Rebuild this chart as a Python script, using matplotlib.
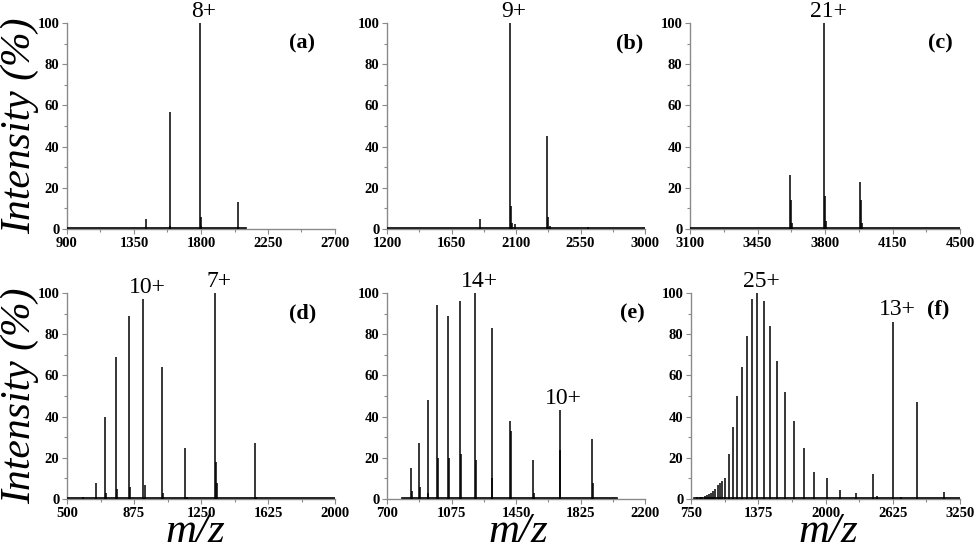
import numpy as np
import matplotlib.pyplot as plt
from matplotlib.ticker import AutoMinorLocator

plt.rcParams['font.family'] = ['Liberation Serif', 'DejaVu Serif']

# Picos de cada espectro (m/z, intensidad %)
a_mz = [1431, 1590, 1594, 1792, 1797, 1802, 2046, 2050]
a_int = [5, 57, 1.5, 100, 6, 1.5, 13, 1]

b_mz = [1848, 2058, 2062, 2070, 2090, 2318, 2322, 2335, 2600]
b_int = [5, 100, 11, 3, 2.5, 45, 6, 1.5, 1]

c_mz = [3621, 3625, 3630, 3795, 3799, 3805, 3983, 3987, 3993]
c_int = [26, 14, 3, 100, 16, 4, 23, 14, 3]

d_mz = [590, 662, 714, 720, 774, 780, 845, 851, 927, 934, 1032, 1038, 1160, 1170,
        1326, 1332, 1340, 1550, 1560]
d_int = [1, 8, 40, 3, 69, 5, 89, 6, 97, 7, 64, 3, 25, 1, 100, 18, 8, 27, 1]

e_mz = [840, 844, 886, 890, 936, 940, 991, 996, 1057, 1062, 1126, 1131, 1212, 1217,
        1308, 1313, 1415, 1420, 1548, 1553, 1703, 1708, 1894, 1899]
e_int = [15, 4, 27, 6, 48, 3, 94, 20, 89, 20, 96, 22, 100, 19,
         83, 10, 38, 33, 19, 3, 43, 24, 29, 8]

f_mz = [810, 834, 855, 876, 896, 915, 936, 958, 977, 999, 1021, 1041, 1066, 1104,
        1141, 1180, 1222, 1267, 1316, 1366, 1426, 1487, 1552, 1626, 1707, 1797,
        1896, 2010, 2136, 2279, 2439, 2480, 2630, 2700, 2846, 3102]
f_int = [1, 1, 1.2, 1.5, 2, 2.5, 3, 4, 5, 7, 8, 8.5, 10, 22,
         35, 50, 64, 79, 97, 100, 96, 84, 67, 52, 38, 25,
         13, 10, 4.5, 3, 12, 1.5, 86, 1.2, 47, 3.5]

# Rango del espectro registrado (linea base)
a_base = [900, 2100]
b_base = [1200, 3000]
c_base = [3100, 4500]
d_base = [500, 2000]
e_base = [790, 2040]
f_base = [780, 3250]

# Ejes x: limites y marcas
a_ticks = [900, 1350, 1800, 2250, 2700]
b_ticks = [1200, 1650, 2100, 2550, 3000]
c_ticks = [3100, 3450, 3800, 4150, 4500]
d_ticks = [500, 875, 1250, 1625, 2000]
e_ticks = [700, 1075, 1450, 1825, 2200]
f_ticks = [750, 1375, 2000, 2625, 3250]

# Etiquetas de estado de carga: (texto, indice del pico)
a_labels = [('8+', 3)]
b_labels = [('9+', 1)]
c_labels = [('21+', 3)]
d_labels = [('10+', 8), ('7+', 14)]
e_labels = [('14+', 12), ('10+', 20)]
f_labels = [('25+', 19), ('13+', 32)]

panels = [
    ('(a)', a_mz, a_int, a_base, a_ticks, a_labels),
    ('(b)', b_mz, b_int, b_base, b_ticks, b_labels),
    ('(c)', c_mz, c_int, c_base, c_ticks, c_labels),
    ('(d)', d_mz, d_int, d_base, d_ticks, d_labels),
    ('(e)', e_mz, e_int, e_base, e_ticks, e_labels),
    ('(f)', f_mz, f_int, f_base, f_ticks, f_labels),
]

W, H = 975, 551
# posicion de cada panel en pixeles: izquierda, arriba, derecha, abajo
boxes = [(67, 23, 335, 229), (387, 23, 645, 229), (690, 23, 960, 229),
         (67, 293, 335, 499), (387, 293, 645, 499), (691, 293, 960, 499)]
tag_pos = [(0.877, 0.90), (0.94, 0.90), (0.926, 0.90),
           (0.88, 0.90), (0.95, 0.90), (0.92, 0.92)]

fig = plt.figure(figsize=(W / 100, H / 100), dpi=100)
grey = '#8a8a8a'

for (tag, mz, inten, base, ticks, labels), (l, t, r, b), tp in zip(panels, boxes, tag_pos):
    ax = fig.add_axes([l / W, 1 - b / H, (r - l) / W, (b - t) / H])
    ax.plot(base, [0.4, 0.4], color='black', lw=1.2, zorder=3)
    ax.vlines(mz, 0, inten, color='black', lw=1.1, zorder=3)
    ax.set_xlim(ticks[0], ticks[-1])
    ax.set_ylim(0, 100)
    ax.set_xticks(ticks)
    ax.set_yticks([0, 20, 40, 60, 80, 100])
    ax.xaxis.set_minor_locator(AutoMinorLocator(2))
    ax.yaxis.set_minor_locator(AutoMinorLocator(2))
    for s in ['top', 'right']:
        ax.spines[s].set_visible(False)
    for s in ['left', 'bottom']:
        ax.spines[s].set_color(grey)
        ax.spines[s].set_linewidth(1.0)
    ax.tick_params(which='major', direction='out', length=3.5, width=0.8,
                   color=grey, pad=2, labelsize=10.5)
    ax.tick_params(which='minor', direction='out', length=2, width=0.8, color=grey)
    for lab in ax.get_xticklabels() + ax.get_yticklabels():
        lab.set_fontweight('bold')
    for txt, i in labels:
        ax.annotate(txt, (mz[i], inten[i]), xytext=(3, 1), textcoords='offset points',
                    ha='center', va='bottom', fontsize=17, annotation_clip=False)
    ax.text(tp[0], tp[1], tag, transform=ax.transAxes, ha='center', va='center',
            fontsize=16, fontweight='bold')

for yc in [126, 396]:
    fig.text(20 / W, 1 - yc / H, 'Intensity (%)', rotation=90, ha='center', va='center',
             fontsize=30, style='italic')
for xc in [195, 518, 828]:
    fig.text(xc / W, 1 - 542 / H, 'm/z', ha='center', va='baseline',
             fontsize=31, style='italic')

fig.savefig('out.png', dpi=100)
